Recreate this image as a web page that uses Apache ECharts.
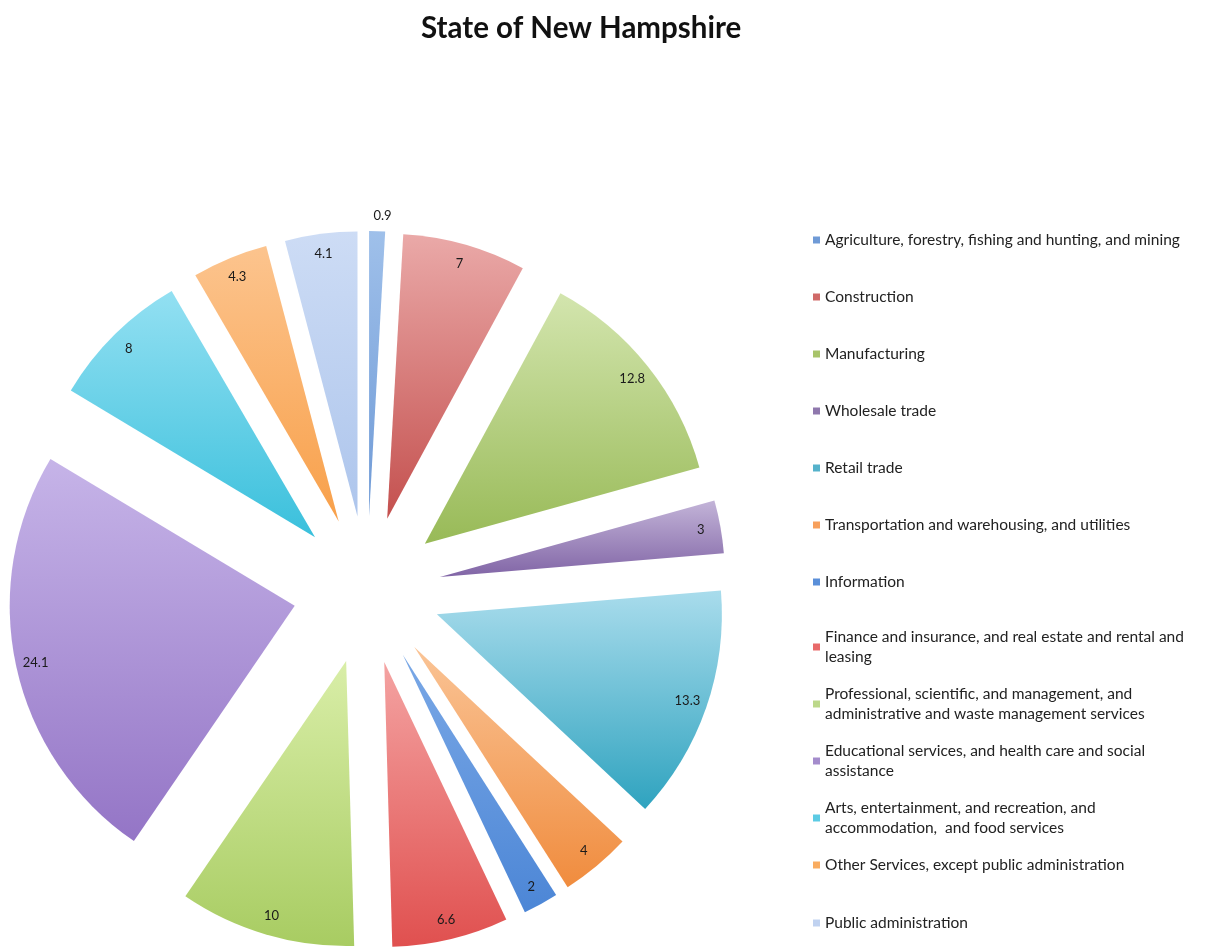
<!DOCTYPE html>
<html>
<head>
<meta charset="utf-8">
<title>State of New Hampshire</title>
<script src="https://cdn.jsdelivr.net/npm/echarts@6/dist/echarts.min.js"></script>
<style>
  html, body { margin: 0; padding: 0; background: #ffffff; }
  #chart { width: 1223px; height: 948px; }
</style>
</head>
<body>
<div id="chart"></div>
<script>
// Employment by industry, State of New Hampshire (percent)
const categories = [
  'Agriculture, forestry, fishing and hunting, and mining',
  'Construction',
  'Manufacturing',
  'Wholesale trade',
  'Retail trade',
  'Transportation and warehousing, and utilities',
  'Information',
  'Finance and insurance, and real estate and rental and leasing',
  'Professional, scientific, and management, and administrative and waste management services',
  'Educational services, and health care and social assistance',
  'Arts, entertainment, and recreation, and accommodation,  and food services',
  'Other Services, except public administration',
  'Public administration'
];
const values = [0.9, 7, 12.8, 3, 13.3, 4, 2, 6.6, 10, 24.1, 8, 4.3, 4.1];

// Legend text as it wraps in the key
const legendText = [
  'Agriculture, forestry, fishing and hunting, and mining',
  'Construction',
  'Manufacturing',
  'Wholesale trade',
  'Retail trade',
  'Transportation and warehousing, and utilities',
  'Information',
  'Finance and insurance, and real estate and rental and\nleasing',
  'Professional, scientific, and management, and\nadministrative and waste management services',
  'Educational services, and health care and social\nassistance',
  'Arts, entertainment, and recreation, and\naccommodation,  and food services',
  'Other Services, except public administration',
  'Public administration'
];

// Slice palette: light top and deeper bottom of each vertical gradient
const topColors = ['#9fc0ea', '#eaa9a8', '#d3e5ae', '#c3b4d8', '#a9dcec', '#fac496',
                   '#7aa8e6', '#f4a3a2', '#d9eea8', '#c6b4e8', '#93e0f2', '#fcc48e', '#cddcf5'];
const bottomColors = ['#6f9ad6', '#c4504e', '#98ba57', '#8165a6', '#2fa3bf', '#f08c3e',
                      '#4c86d6', '#e0504f', '#a8cc62', '#9475c6', '#3ac0dc', '#f8a04a', '#adc5ec'];
const legendColors = ['#6f9ad6', '#d06a68', '#a8c46a', '#8f78ad', '#55b2cb', '#f7a05c',
                      '#5a8fd9', '#e86a6a', '#bcd88a', '#a48ccc', '#5ccbe4', '#f9ac60', '#c0d2f0'];

const chart = echarts.init(document.getElementById('chart'), null, { renderer: 'canvas' });

const fontFamily = 'Lato, "Open Sans", sans-serif';
const pieCenter = [367, 590];
const pieRadius = 285;
const explode = 74;

function gradient(i) {
  return new echarts.graphic.LinearGradient(0, 0, 0, 1, [
    { offset: 0, color: topColors[i] },
    { offset: 1, color: bottomColors[i] }
  ]);
}

const sliceData = categories.map((name, i) => ({
  name: name,
  value: values[i],
  selected: true,
  itemStyle: { color: gradient(i) }
}));

// Transparent ring carrying the value labels near the outer edge;
// a slice too thin for its label gets it just outside the arc
const labelData = categories.map((name, i) => {
  const item = {
    name: name,
    value: values[i],
    selected: true,
    itemStyle: { color: 'rgba(0,0,0,0)' }
  };
  if (values[i] < 1) {
    item.label = { position: 'outside' };
    item.labelLine = { show: false, length: 15, length2: 0 };
  }
  return item;
});

function legendBlock(from, to, top, gap) {
  return {
    orient: 'vertical',
    left: 808,
    top: top,
    itemGap: gap,
    itemWidth: 7,
    itemHeight: 7,
    icon: 'rect',
    selectedMode: false,
    data: categories.slice(from, to).map((name, k) => ({
      name: name,
      itemStyle: { color: legendColors[from + k] }
    })),
    formatter: name => legendText[categories.indexOf(name)],
    textStyle: {
      fontFamily: fontFamily,
      fontSize: 15.5,
      color: '#222222',
      lineHeight: 20
    }
  };
}

const option = {
  animation: false,
  backgroundColor: '#ffffff',
  title: {
    text: 'State of New Hampshire',
    left: 416,
    top: 8,
    textStyle: {
      fontFamily: fontFamily,
      fontWeight: 'bold',
      fontSize: 29.5,
      color: '#111111'
    }
  },
  legend: [
    legendBlock(0, 7, 225, 37),
    legendBlock(7, 12, 622, 17),
    legendBlock(12, 13, 908, 10)
  ],
  series: [
    {
      type: 'pie',
      center: pieCenter,
      radius: [0, pieRadius],
      startAngle: 90,
      clockwise: true,
      selectedMode: 'multiple',
      selectedOffset: explode,
      emphasis: { disabled: true },
      label: { show: false },
      labelLine: { show: false },
      data: sliceData
    },
    {
      type: 'pie',
      silent: true,
      center: pieCenter,
      radius: [pieRadius * 0.84, pieRadius],
      startAngle: 90,
      clockwise: true,
      selectedMode: 'multiple',
      selectedOffset: explode,
      emphasis: { disabled: true },
      label: {
        show: true,
        position: 'inside',
        formatter: '{c}',
        fontFamily: fontFamily,
        fontSize: 13,
        color: '#1a1a1a'
      },
      labelLine: { show: false },
      labelLayout: params => (values[params.dataIndex] < 1 ? { align: 'center' } : {}),
      data: labelData
    }
  ]
};

chart.setOption(option);
</script>
</body>
</html>
